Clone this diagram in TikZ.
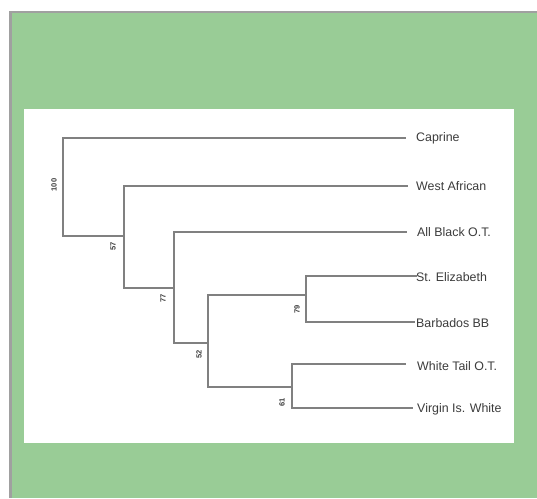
\documentclass[tikz,border=0pt]{standalone}
\usepackage{fontspec}
\setmainfont{Liberation Sans}
\definecolor{bggreen}{RGB}{153,204,150}
\definecolor{edgegray}{RGB}{128,128,128}
\definecolor{framegray}{RGB}{160,160,160}
\definecolor{txtgray}{RGB}{60,60,60}
\begin{document}
\begin{tikzpicture}[x=1pt,y=-1pt,
  edge/.style={draw=edgegray,line width=1.6pt,line cap=rect},
  leaf/.style={anchor=west,inner sep=0pt,font=\fontsize{12.4}{15}\selectfont,text=txtgray},
  boot/.style={rotate=90,inner sep=0pt,font=\fontsize{7.5}{8}\bfseries\selectfont,text=txtgray}]
\useasboundingbox (0,0) rectangle (537,498);
\fill[white] (0,0) rectangle (537,498);
\fill[framegray] (9,11) rectangle (537,498);
\fill[bggreen] (12,13) rectangle (537,498);
\fill[white] (24,109) rectangle (514,443);
% junction coordinates
\coordinate (n1t) at (63,138);  \coordinate (n1b) at (63,236);
\coordinate (n2t) at (124,186); \coordinate (n2b) at (124,288);
\coordinate (n3t) at (174,232); \coordinate (n3b) at (174,343);
\coordinate (n4t) at (208,295); \coordinate (n4b) at (208,387);
\coordinate (n5t) at (306,276); \coordinate (n5b) at (306,322);
\coordinate (n6t) at (292,364); \coordinate (n6b) at (292,408);
% leaf line ends
\coordinate (eCap) at (405,138);
\coordinate (eWA) at (407,186);
\coordinate (eAB) at (406,232);
\coordinate (eSE) at (416,276);
\coordinate (eBB) at (414,322);
\coordinate (eWT) at (405,364);
\coordinate (eVW) at (412,408);
% leaf labels
\node[leaf] (lCap) at (416,138) {Caprine};
\node[leaf] (lWA) at (416,186) {West African};
\node[leaf] (lAB) at (417,232) {All Black O.T.};
\node[leaf] (lSE) at (416,277) {St. Elizabeth};
\node[leaf] (lBB) at (416,323) {Barbados BB};
\node[leaf] (lWT) at (417,366) {White Tail O.T.};
\node[leaf] (lVW) at (417,409) {Virgin Is. White};
% edges
\draw[edge] (eCap) -- (n1t) -- (n1b) -- (n2t |- n1b);
\draw[edge] (eWA) -- (n2t) -- (n2b) -- (n3t |- n2b);
\draw[edge] (eAB) -- (n3t) -- (n3b) -- (n4t |- n3b);
\draw[edge] (n5t |- n4t) -- (n4t) -- (n4b) -- (n6t |- n4b);
\draw[edge] (eSE) -- (n5t) -- (n5b) -- (eBB);
\draw[edge] (eWT) -- (n6t) -- (n6b) -- (eVW);
% bootstrap values
\node[boot] (b1) at (54,185) {100};
\node[boot] (b2) at (113,246) {57};
\node[boot] (b3) at (163,298) {77};
\node[boot] (b4) at (199,354) {52};
\node[boot] (b5) at (297,309) {79};
\node[boot] (b6) at (282,402) {61};
\end{tikzpicture}
\end{document}
